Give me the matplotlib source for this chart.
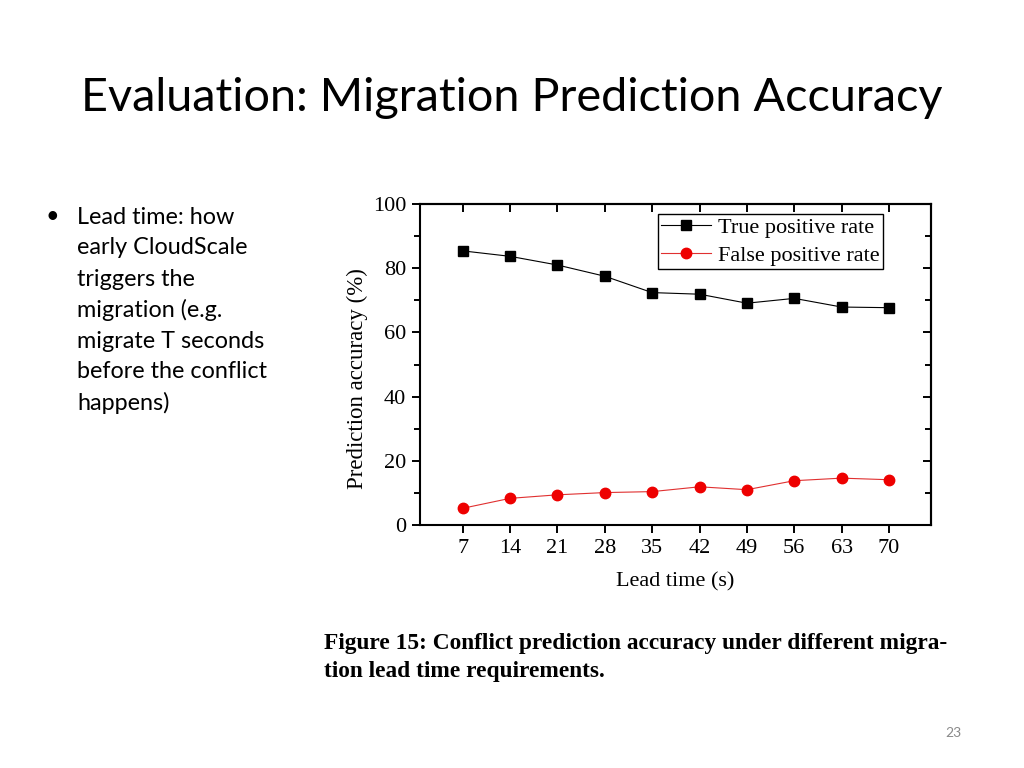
import matplotlib
matplotlib.use("Agg")
import matplotlib.pyplot as plt
from matplotlib.ticker import MultipleLocator, FixedLocator, NullFormatter

lead_time = [7, 14, 21, 28, 35, 42, 49, 56, 63, 70]
true_positive = [85.4, 83.7, 81.0, 77.5, 72.4, 71.9, 69.1, 70.6, 67.9, 67.7]
false_positive = [5.2, 8.3, 9.4, 10.1, 10.4, 11.9, 11.0, 13.8, 14.6, 14.1]

title = "Evaluation: Migration Prediction Accuracy"
bullet_lines = ["Lead time: how", "early CloudScale", "triggers the",
                "migration (e.g.", "migrate T seconds", "before the conflict",
                "happens)"]
caption_lines = ["Figure 15: Conflict prediction accuracy under different migra-",
                 "tion lead time requirements."]

fig = plt.figure(figsize=(10.24, 7.68), dpi=100)
fig.patch.set_facecolor("white")

sans = ["Lato", "DejaVu Sans"]
serif = ["Liberation Serif", "DejaVu Serif"]

fig.text(81 / 1024, 1 - 98 / 768, title, family=sans, fontsize=33.7,
         ha="left", va="center", color="black")

fig.text(45 / 1024, 1 - 217 / 768, "\u2022", family=sans, fontsize=16.8,
         ha="left", va="center")
for i, line in enumerate(bullet_lines):
    fig.text(77 / 1024, 1 - (217 + 31 * i) / 768, line, family=sans,
             fontsize=16.8, ha="left", va="center")

for i, line in enumerate(caption_lines):
    fig.text(324 / 1024, 1 - (644 + 28 * i) / 768, line, family=serif,
             fontsize=16.8, fontweight="bold", ha="left", va="center")

fig.text(953 / 1024, 1 - 733 / 768, "23", family=sans, fontsize=10,
         color="#8a8a8a", ha="center", va="center")

ax = fig.add_axes([420 / 1024, 1 - 525 / 768, (931 - 420) / 1024, (525 - 204) / 768])
ax.plot(lead_time, true_positive, color="black", lw=0.8, marker="s",
        markersize=7, markerfacecolor="black", markeredgecolor="black",
        label="True positive rate")
ax.plot(lead_time, false_positive, color="#e03030", lw=0.8, marker="o",
        markersize=7.5, markerfacecolor="#ee0000", markeredgecolor="#ee0000",
        label="False positive rate")

ax.set_xlim(0.7, 76.2)
ax.set_ylim(0, 100)
ax.xaxis.set_major_locator(FixedLocator(lead_time))
ax.yaxis.set_major_locator(MultipleLocator(20))
ax.yaxis.set_minor_locator(MultipleLocator(10))
ax.tick_params(axis="both", which="major", direction="out", length=6,
               width=1.4, labelsize=16, pad=4)
ax.tick_params(axis="y", which="minor", direction="out", length=4, width=1.4)
for lab in ax.get_xticklabels() + ax.get_yticklabels():
    lab.set_family(serif)
for s in ax.spines.values():
    s.set_linewidth(1.5)

top = ax.secondary_xaxis("top")
top.xaxis.set_major_locator(FixedLocator(lead_time))
top.xaxis.set_major_formatter(NullFormatter())
top.tick_params(direction="in", length=6, width=1.4)
right = ax.secondary_yaxis("right")
right.yaxis.set_major_locator(MultipleLocator(20))
right.yaxis.set_minor_locator(MultipleLocator(10))
right.yaxis.set_major_formatter(NullFormatter())
right.tick_params(which="major", direction="in", length=6, width=1.4)
right.tick_params(which="minor", direction="in", length=4, width=1.4)
for s in list(top.spines.values()) + list(right.spines.values()):
    s.set_linewidth(1.5)

ax.set_xlabel("Lead time (s)", family=serif, fontsize=16)
ax.xaxis.set_label_coords(0.5, (525 - 582) / 321, transform=ax.transAxes)
ax.xaxis.label.set_va("center")
ax.set_ylabel("Prediction accuracy (%)", family=serif, fontsize=16.5)
ax.yaxis.set_label_coords((357 - 420) / 511, (525 - 379) / 321, transform=ax.transAxes)
ax.yaxis.label.set_va("center")

leg = ax.legend(loc="upper right", bbox_to_anchor=((883 - 420) / 511, (525 - 214) / 321),
                prop={"family": serif, "size": 16}, frameon=True,
                fancybox=False, edgecolor="black", framealpha=1,
                borderpad=0.15, labelspacing=0.32, handlelength=2.25,
                handletextpad=0.3, borderaxespad=0)
leg.get_frame().set_linewidth(1.0)

fig.savefig("out.png", dpi=100, facecolor="white")
